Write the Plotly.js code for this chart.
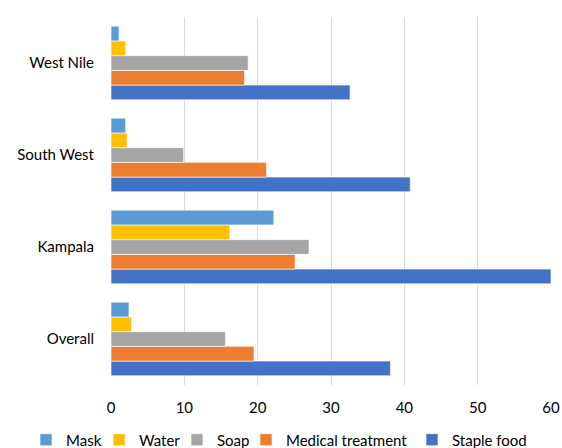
<!DOCTYPE html>
<html>
<head>
<meta charset="utf-8">
<script src="https://cdn.plot.ly/plotly-3.0.1.min.js"></script>
<style>html,body{margin:0;padding:0;background:#fff;}#chart{width:562px;height:448px;}</style>
</head>
<body>
<div id="chart"></div>
<script>
var regions = ['Overall', 'Kampala', 'South West', 'West Nile'];
var seriesNames = ['Mask', 'Water', 'Soap', 'Medical treatment', 'Staple food'];
var mask = [2.45, 22.2, 2.0, 1.1];
var water = [2.8, 16.2, 2.2, 2.0];
var soap = [15.6, 27.0, 9.9, 18.7];
var medical = [19.5, 25.1, 21.2, 18.2];
var staple = [38.1, 60.0, 40.8, 32.6];
var colors = ['#5B9BD5', '#FFC000', '#A5A5A5', '#ED7D31', '#4472C4'];
var xTicks = [0, 10, 20, 30, 40, 50, 60];

var values = [mask, water, soap, medical, staple];
var legendIds = ['legend', 'legend2', 'legend3', 'legend4', 'legend5'];
var legendX = [26, 99, 177, 246, 412];

var traces = [];
for (var i = values.length - 1; i >= 0; i--) {
  traces.push({
    type: 'bar',
    orientation: 'h',
    name: seriesNames[i],
    y: regions,
    x: values[i],
    legend: legendIds[i],
    marker: {color: colors[i], line: {color: '#ffffff', width: 0.6}},
    hoverinfo: 'x+name'
  });
}

var layout = {
  width: 562, height: 448,
  margin: {l: 111, r: 11, t: 17, b: 63},
  paper_bgcolor: '#fff', plot_bgcolor: '#fff',
  barmode: 'group',
  bargap: 0.2,
  bargroupgap: 0,
  font: {family: 'Lato, "Open Sans", sans-serif', size: 15, color: '#000'},
  xaxis: {
    range: [0, 60], tickvals: xTicks, ticktext: xTicks.map(String),
    showgrid: true, gridcolor: '#d9d9d9', gridwidth: 1,
    zeroline: false, showline: false, ticks: '',
    ticklabelstandoff: 12,
    tickfont: {size: 15, color: '#000'}, fixedrange: true, automargin: false
  },
  yaxis: {
    type: 'category', categoryorder: 'array', categoryarray: regions,
    showgrid: false, zeroline: false, showline: false, ticks: '',
    ticklabelstandoff: 16, tickfont: {size: 15, color: '#000'}, automargin: false
  },
  showlegend: true
};
for (var k = 0; k < legendIds.length; k++) {
  layout[legendIds[k]] = {
    orientation: 'h', xref: 'container', yref: 'container',
    x: legendX[k] / 562, xanchor: 'left', y: 0.018, yanchor: 'middle',
    font: {size: 15, color: '#000'}, itemwidth: 30,
    bgcolor: 'rgba(0,0,0,0)', borderwidth: 0
  };
}
Plotly.newPlot('chart', traces, layout, {displayModeBar: false, staticPlot: true});
</script>
</body>
</html>
